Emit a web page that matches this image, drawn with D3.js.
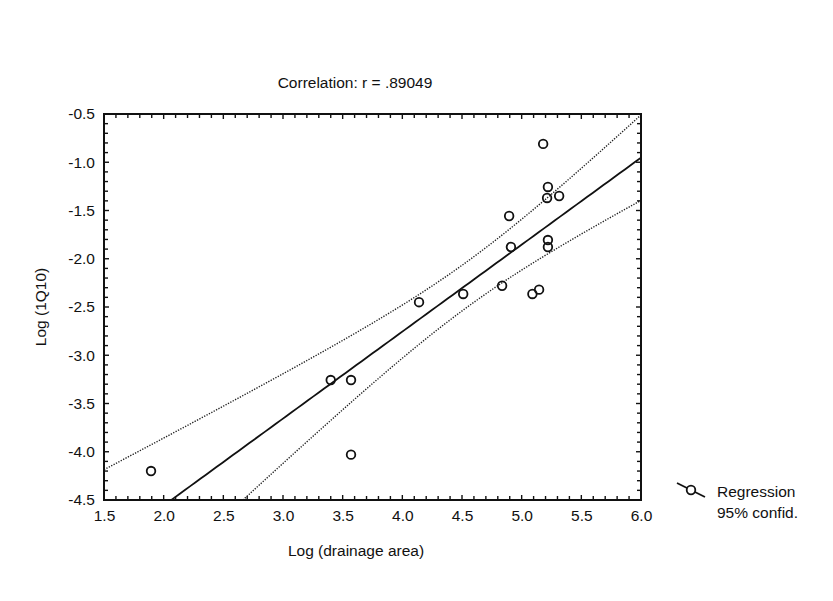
<!DOCTYPE html>
<html>
<head>
<meta charset="utf-8">
<script src="https://cdn.jsdelivr.net/npm/d3@7"></script>
<style>
  body { margin: 0; background: #fff; }
  text { font-family: "Liberation Sans", Arial, sans-serif; fill: #111; }
</style>
</head>
<body>
<div id="chart"></div>
<script>
// values
const logArea = [1.894, 3.40, 3.57, 3.57, 4.14, 4.51, 4.836, 4.895, 4.91, 5.09, 5.146, 5.18, 5.22, 5.213, 5.314, 5.22, 5.22]
const log1Q10 = [-4.20, -3.257, -3.257, -4.03, -2.45, -2.365, -2.28, -1.557, -1.878, -2.365, -2.32, -0.81, -1.256, -1.37, -1.35, -1.806, -1.878]
const xTicks = [1.5, 2.0, 2.5, 3.0, 3.5, 4.0, 4.5, 5.0, 5.5, 6.0]
const yTicks = [-0.5, -1.0, -1.5, -2.0, -2.5, -3.0, -3.5, -4.0, -4.5]
const titleText = "Correlation: r = .89049"
const xLabel = "Log (drainage area)"
const yLabel = "Log (1Q10)"
const legendLabels = ["Regression", "95% confid."]

window.onload = function() {
  let w = 833,
    h = 601,
    margin = {left: 104, right: 192, top: 114, bottom: 101},
    fs = 15.5;

  let xScale = d3.scaleLinear()
      .domain([1.5, 6.0])
      .range([margin.left, w - margin.right])

  let yScale = d3.scaleLinear()
      .domain([-4.5, -0.5])
      .range([h - margin.bottom, margin.top])

  const svg = d3.select("#chart").append("svg")
      .attr("width", w)
      .attr("height", h)

  svg.append("clipPath").attr("id", "plotClip")
    .append("rect")
      .attr("x", xScale(1.5)).attr("y", yScale(-0.5))
      .attr("width", xScale(6) - xScale(1.5))
      .attr("height", yScale(-4.5) - yScale(-0.5))

  // least squares fit + 95% confidence band of the mean
  let data = logArea.map(function(x, i) { return {x: x, y: log1Q10[i]}; })
  let n = data.length,
    mx = d3.mean(logArea),
    my = d3.mean(log1Q10),
    sxx = d3.sum(data, d => (d.x - mx) * (d.x - mx)),
    sxy = d3.sum(data, d => (d.x - mx) * (d.y - my)),
    slope = sxy / sxx,
    icpt = my - slope * mx,
    sse = d3.sum(data, d => Math.pow(d.y - (icpt + slope * d.x), 2)),
    s = Math.sqrt(sse / (n - 2)),
    t = 2.131;

  let grid = d3.range(0, 101).map(i => 1.5 + i * 0.045)
  let fit = grid.map(function(x) {
    let yh = icpt + slope * x,
      half = t * s * Math.sqrt(1 / n + (x - mx) * (x - mx) / sxx);
    return {x: x, y: yh, lo: yh - half, hi: yh + half};
  })

  let plot = svg.append("g").attr("clip-path", "url(#plotClip)")

  let line = key => d3.line().x(d => xScale(d.x)).y(d => yScale(d[key]))

  plot.append("path")
      .datum(fit)
      .attr("d", line("hi"))
      .attr("fill", "none").attr("stroke", "#222")
      .attr("stroke-width", 1.4).attr("stroke-dasharray", "1.3,1.4")
  plot.append("path")
      .datum(fit)
      .attr("d", line("lo"))
      .attr("fill", "none").attr("stroke", "#222")
      .attr("stroke-width", 1.4).attr("stroke-dasharray", "1.3,1.4")
  plot.append("path")
      .datum(fit)
      .attr("d", line("y"))
      .attr("fill", "none").attr("stroke", "#111")
      .attr("stroke-width", 1.8)

  plot.selectAll("circle")
      .data(data)
      .enter().append("circle")
        .attr("cx", d => xScale(d.x))
        .attr("cy", d => yScale(d.y))
        .attr("r", 4.3)
        .attr("fill", "none")
        .attr("stroke", "#111")
        .attr("stroke-width", 1.8)

  // axes: minor ticks every 0.1 on all four sides, inward
  let xMinor = d3.range(15, 61).map(v => v / 10)
  let yMinor = d3.range(-45, -4).map(v => v / 10)
  let bottom = yScale(-4.5), top = yScale(-0.5)
  let left = xScale(1.5), right = xScale(6)
  let isMajor = v => Math.abs(v * 2 - Math.round(v * 2)) < 1e-6

  let ticks = svg.append("g").attr("stroke", "#111").attr("stroke-width", 1.4)
  xMinor.forEach(function(v) {
    let len = isMajor(v) ? 5 : 4;
    ticks.append("line").attr("x1", xScale(v)).attr("x2", xScale(v))
      .attr("y1", bottom).attr("y2", bottom - len)
    ticks.append("line").attr("x1", xScale(v)).attr("x2", xScale(v))
      .attr("y1", top).attr("y2", top + len)
  })
  yMinor.forEach(function(v) {
    let len = isMajor(v) ? 5 : 4;
    ticks.append("line").attr("y1", yScale(v)).attr("y2", yScale(v))
      .attr("x1", left).attr("x2", left + len)
    ticks.append("line").attr("y1", yScale(v)).attr("y2", yScale(v))
      .attr("x1", right).attr("x2", right - len)
  })

  svg.append("rect")
      .attr("x", left).attr("y", top)
      .attr("width", right - left).attr("height", bottom - top)
      .attr("fill", "none").attr("stroke", "#111").attr("stroke-width", 2)

  let fmt = v => d3.format(".1f")(v).replace("−", "-")
  let xAxis = svg.append("g")
      .attr("transform", "translate(0," + bottom + ")")
      .call(d3.axisBottom(xScale).tickValues(xTicks).tickSize(0).tickPadding(10).tickFormat(fmt))
  let yAxis = svg.append("g")
      .attr("transform", "translate(" + left + ",0)")
      .call(d3.axisLeft(yScale).tickValues(yTicks).tickSize(0).tickPadding(9).tickFormat(fmt))
  ;[xAxis, yAxis].forEach(function(a) {
    a.select(".domain").remove()
    a.selectAll("text").attr("font-size", fs).attr("font-family", "Liberation Sans, Arial, sans-serif").attr("fill", "#111")
  })

  svg.append("text")
      .attr("x", 355).attr("y", 88)
      .attr("text-anchor", "middle").attr("font-size", fs)
      .text(titleText)

  svg.append("text")
      .attr("x", 356).attr("y", 556)
      .attr("text-anchor", "middle").attr("font-size", fs)
      .text(xLabel)

  svg.append("text")
      .attr("transform", "translate(46," + ((top + bottom) / 2) + ") rotate(-90)")
      .attr("text-anchor", "middle").attr("font-size", fs)
      .text(yLabel)

  // legend
  let lg = svg.append("g").attr("transform", "translate(677,483)")
  lg.append("line").attr("x1", 0).attr("y1", 0).attr("x2", 28).attr("y2", 14)
      .attr("stroke", "#111").attr("stroke-width", 1.8)
  lg.append("circle").attr("cx", 14).attr("cy", 7).attr("r", 4.3)
      .attr("fill", "#fff").attr("stroke", "#111").attr("stroke-width", 1.8)
  lg.selectAll("text.lab")
      .data(legendLabels)
      .enter().append("text")
        .attr("class", "lab")
        .attr("x", 40)
        .attr("y", (d, i) => 14 + i * 21)
        .attr("font-size", fs)
        .text(d => d)
}
</script>
</body>
</html>
